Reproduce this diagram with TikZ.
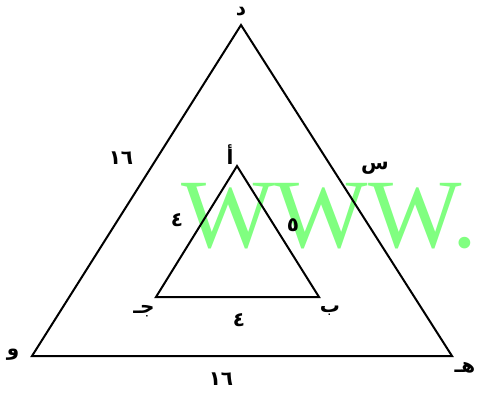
\documentclass[tikz,border=0pt]{standalone}
\usepackage{fontspec}
\setmainfont{Liberation Serif}
\newfontfamily\arabicfont[Script=Arabic]{DejaVu Sans}
\TeXXeTstate=1
\begin{document}
\begin{tikzpicture}[x=1pt,y=-1pt,
  lbl/.style={inner sep=0pt,font=\arabicfont\bfseries\fontsize{20}{20}\selectfont},
  edge/.style={line width=2pt,line join=miter}]
\useasboundingbox (0,0) rectangle (480,394);
\fill[white] (0,0) rectangle (480,394);
% watermark
\begin{scope}
\clip (0,0) rectangle (480,394);
\node[anchor=base west,inner sep=0pt,xscale=1.01,text=green!50!white,font=\fontsize{98}{98}\selectfont] (wm) at (181,247) {WWW.};
\end{scope}
% outer triangle
\coordinate (D) at (241,25);
\coordinate (O) at (32,356);
\coordinate (H) at (452,356);
\draw[edge] (D) -- (O) -- (H) -- cycle;
% inner triangle
\coordinate (A) at (237,166);
\coordinate (J) at (156,297);
\coordinate (B) at (319,297);
\draw[edge] (A) -- (J) -- (B) -- cycle;
% labels
\node[lbl] (lD) at (241,12) {\beginR د\endR};
\node[lbl] (lO) at (13,355) {\beginR و\endR};
\node[lbl] (lH) at (465,368) {\beginR هـ\endR};
\node[lbl] (lS) at (375,168) {\beginR س\endR};
\node[lbl] (lA) at (230,155) {\beginR أ\endR};
\node[lbl] (lJ) at (144,311) {\beginR جـ\endR};
\node[lbl] (lB) at (330,311) {\beginR ب\endR};
\node[lbl] (n16a) at (121,158) {\beginR ١٦\endR};
\node[lbl] (n16b) at (221,379) {\beginR ١٦\endR};
\node[lbl] (n4a) at (177,220) {\beginR ٤\endR};
\node[lbl] (n5) at (293,225) {\beginR ٥\endR};
\node[lbl] (n4b) at (239,320) {\beginR ٤\endR};
\end{tikzpicture}
\end{document}
